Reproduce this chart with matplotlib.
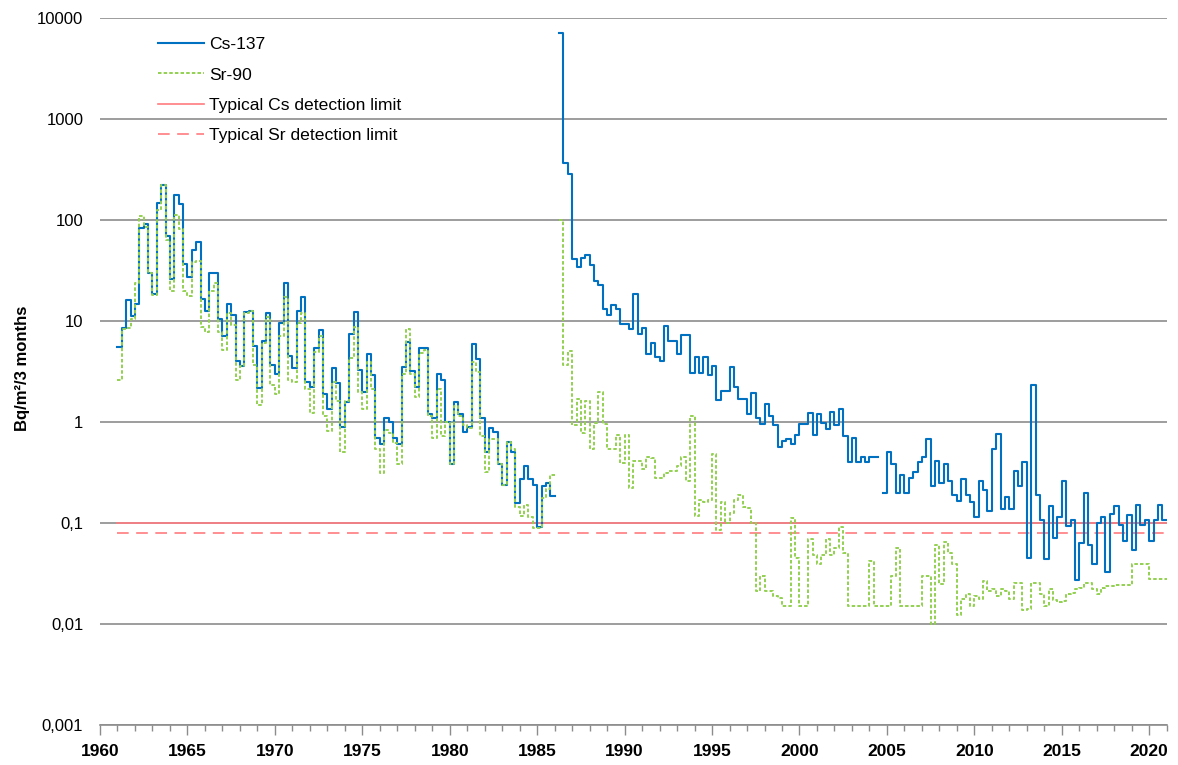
import numpy as np
import matplotlib
matplotlib.use("Agg")
import matplotlib.pyplot as plt
from matplotlib.ticker import FixedLocator, FixedFormatter, MultipleLocator, NullLocator

nan = np.nan

# quarterly deposition in Bq/m2, first value = 1961 Q1
first_year = 1961
cs_137 = [
    5.5, 8.6, 16.1, 11.2, 14.8, 83, 92, 30, 18.4, 148, 224, 69, 26, 175, 143, 37,
    27, 51, 60, 16.4, 12.5, 29.6, 30, 10.4, 7.1, 14.6, 11.4, 4.0, 3.6, 12.3, 12.5, 5.7,
    2.19, 6.4, 11.9, 3.7, 3.0, 9.6, 23.6, 4.5, 3.4, 12.5, 17.4, 2.5, 2.24, 5.4, 8.1, 1.88,
    1.34, 3.4, 2.44, 0.89, 1.57, 7.4, 12.3, 3.24, 1.99, 4.7, 2.9, 0.69, 0.60, 1.1, 1.0, 0.69,
    0.60, 3.5, 6.2, 3.2, 2.2, 5.4, 5.4, 1.19, 1.1, 3.0, 2.6, 1.0, 0.38, 1.58, 1.2, 0.80,
    0.89, 5.9, 4.2, 1.1, 0.50, 0.88, 0.79, 0.38, 0.24, 0.63, 0.50, 0.157, 0.27, 0.37, 0.275, 0.24,
    0.092, 0.235, 0.25, 0.187, nan, 7100, 366, 288, 41, 34, 42, 45, 36, 24.7, 22.8, 13.2,
    11.4, 14.5, 13, 9.3, 9.3, 8.3, 18.4, 7.5, 8.5, 4.7, 6.0, 4.4, 4.0, 9.0, 6.3, 6.3,
    4.7, 7.2, 7.2, 3.05, 4.4, 3.05, 4.4, 2.9, 3.6, 1.65, 2.05, 2.05, 3.5, 2.2, 1.7, 1.7,
    1.19, 1.92, 1.10, 0.95, 1.50, 1.15, 0.93, 0.56, 0.65, 0.68, 0.60, 0.74, 0.96, 0.96, 1.24, 0.75,
    1.21, 0.97, 0.85, 1.26, 0.94, 1.36, 0.72, 0.40, 0.70, 0.40, 0.45, 0.40, 0.45, 0.45, nan, 0.20,
    0.51, 0.385, 0.20, 0.30, 0.20, 0.28, 0.32, 0.40, 0.45, 0.68, 0.23, 0.41, 0.25, 0.38, 0.26, 0.19,
    0.167, 0.27, 0.19, 0.16, 0.114, 0.26, 0.21, 0.13, 0.54, 0.76, 0.139, 0.18, 0.139, 0.33, 0.23, 0.40,
    0.045, 2.3, 0.19, 0.107, 0.044, 0.146, 0.071, 0.114, 0.26, 0.093, 0.106, 0.027, 0.064, 0.2, 0.06, 0.039,
    0.1, 0.115, 0.033, 0.123, 0.146, 0.096, 0.067, 0.12, 0.054, 0.15, 0.096, 0.108, 0.067, 0.108, 0.15, 0.108,
]
sr_90 = [
    2.6, 8.4, 8.5, 10.4, 24, 109, 85, 30, 18, 125, 224, 64, 19.6, 112, 82, 19.6,
    17.5, 38, 39, 8.8, 7.7, 20, 24, 7.7, 5.2, 12, 9.1, 2.6, 3.6, 12, 12.5, 3.7,
    1.48, 6.1, 11, 2.3, 1.9, 7.1, 17.3, 2.6, 2.5, 9.6, 11.9, 2.1, 1.22, 4.9, 7.1, 1.15,
    0.81, 2.5, 1.6, 0.51, 1.6, 4.3, 8.8, 2.0, 1.35, 3.9, 2.1, 0.54, 0.31, 0.84, 0.78, 0.62,
    0.38, 3.0, 8.4, 3.0, 1.77, 4.8, 5.2, 1.14, 0.69, 2.1, 0.72, 1.0, 0.38, 1.43, 1.14, 0.94,
    0.87, 3.9, 3.1, 0.72, 0.32, 0.68, 0.68, 0.38, 0.24, 0.64, 0.54, 0.143, 0.116, 0.151, 0.114, 0.09,
    0.09, 0.176, 0.218, 0.30, nan, 100, 3.7, 5.0, 0.93, 1.7, 0.78, 1.6, 0.54, 0.98, 2.0, 0.96,
    0.54, 0.54, 0.74, 0.39, 0.74, 0.22, 0.41, 0.41, 0.34, 0.45, 0.44, 0.28, 0.28, 0.31, 0.33, 0.33,
    0.37, 0.45, 0.26, 1.15, 0.116, 0.17, 0.16, 0.17, 0.48, 0.085, 0.16, 0.10, 0.125, 0.17, 0.19, 0.145,
    0.14, 0.10, 0.021, 0.03, 0.021, 0.021, 0.019, 0.018, 0.0152, 0.0152, 0.113, 0.045, 0.015, 0.015, 0.069, 0.048,
    0.039, 0.048, 0.07, 0.048, 0.056, 0.092, 0.05, 0.015, 0.015, 0.015, 0.015, 0.015, 0.042, 0.015, 0.015, 0.015,
    0.015, 0.03, 0.057, 0.015, 0.015, 0.015, 0.015, 0.015, 0.0297, 0.0297, 0.0099, 0.06, 0.025, 0.065, 0.05, 0.039,
    0.0124, 0.0175, 0.0196, 0.015, 0.019, 0.0175, 0.0265, 0.021, 0.022, 0.019, 0.022, 0.021, 0.0175, 0.0256, 0.0256, 0.0139,
    0.014, 0.0256, 0.0256, 0.02, 0.0152, 0.022, 0.0172, 0.0165, 0.017, 0.02, 0.0205, 0.022, 0.0225, 0.0256, 0.0256, 0.022,
    0.02, 0.0225, 0.0237, 0.024, 0.0245, 0.0245, 0.0245, 0.0245, 0.039, 0.039, 0.039, 0.039, 0.0276, 0.0276, 0.0276, 0.0276,
]

cs_limit = 0.1
sr_limit = 0.08

y_ticks = [0.001, 0.01, 0.1, 1, 10, 100, 1000, 10000]
y_tick_labels = ["0,001", "0,01", "0,1", "1", "10", "100", "1000", "10000"]
x_ticks = list(range(1960, 2021, 5))

plt.rcParams["font.family"] = ["Liberation Sans", "DejaVu Sans"]


def quarter_steps(values):
    """x edges of each quarter and the values, last one repeated so the final quarter is drawn"""
    vals = np.asarray(values, dtype=float)
    x = first_year + 0.25 * np.arange(len(vals) + 1)
    return x, np.append(vals, vals[-1])


fig = plt.figure(figsize=(11.78, 7.65), dpi=100)
ax = fig.add_axes([100 / 1178, 1 - 725 / 765, 1066.7 / 1178, 707 / 765])

x_cs, y_cs = quarter_steps(cs_137)
x_sr, y_sr = quarter_steps(sr_90)

ax.step(x_cs, y_cs, where="post", color="#0070C0", lw=1.5, label="Cs-137", zorder=3)
ax.step(x_sr, y_sr, where="post", color="#92D050", lw=1.4, linestyle=(0, (1.8, 1.1)),
        label="Sr-90", zorder=4)
span = [x_cs[0], x_cs[-1]]
ax.plot(span, [cs_limit, cs_limit], color="#FF7C80", lw=1.2,
        label="Typical Cs detection limit", zorder=2)
ax.plot(span, [sr_limit, sr_limit], color="#FF7C80", lw=1.2, linestyle=(0, (7, 4.5)),
        label="Typical Sr detection limit", zorder=2)

ax.set_yscale("log")
ax.set_ylim(0.001, 10000)
ax.set_xlim(1960, 2021)

ax.yaxis.set_major_locator(FixedLocator(y_ticks))
ax.yaxis.set_major_formatter(FixedFormatter(y_tick_labels))
ax.yaxis.set_minor_locator(NullLocator())
ax.xaxis.set_major_locator(FixedLocator(x_ticks))
ax.xaxis.set_minor_locator(MultipleLocator(1))

ax.grid(axis="y", which="major", color="#8c8c8c", lw=1.2)
ax.set_axisbelow(True)
for side in ["left", "right", "top"]:
    ax.spines[side].set_visible(False)
ax.spines["bottom"].set_color("#8c8c8c")
ax.spines["bottom"].set_linewidth(1.2)

ax.tick_params(axis="y", length=0, pad=12, labelsize=12)
ax.tick_params(axis="x", which="major", length=7, width=1, color="#8c8c8c", pad=7, labelsize=12.5)
ax.tick_params(axis="x", which="minor", length=4, width=1, color="#8c8c8c")
for lbl in ax.get_xticklabels():
    lbl.set_fontweight("bold")

ax.set_ylabel("Bq/m²/3 months", fontsize=12, fontweight="bold")
ax.yaxis.set_label_coords(-0.066, 0.505)

ax.legend(loc="upper left", bbox_to_anchor=(0.048, 0.983), frameon=False, fontsize=12.6,
          handlelength=2.6, handletextpad=0.3, labelspacing=0.86, borderaxespad=0)

fig.savefig("out.png", dpi=100)
